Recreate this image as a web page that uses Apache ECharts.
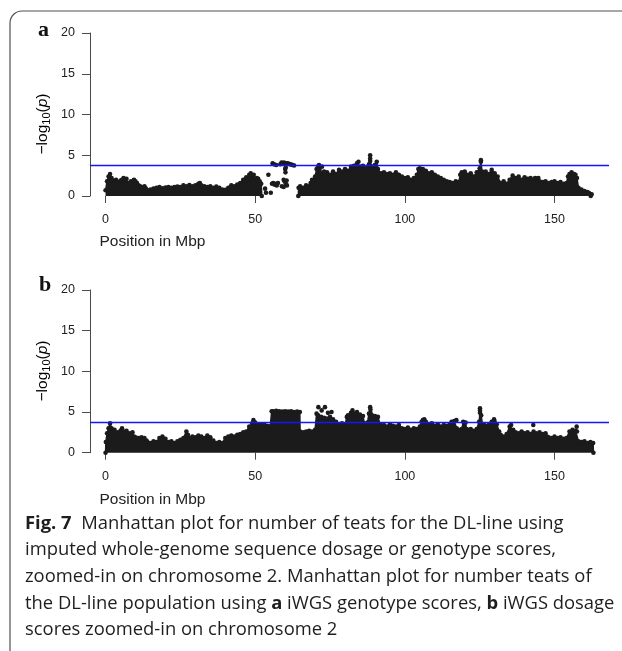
<!DOCTYPE html>
<html><head><meta charset="utf-8">
<script src="https://cdn.jsdelivr.net/npm/echarts@6/dist/echarts.min.js"></script>
<style>html,body{margin:0;padding:0;background:#fff}#c{width:622px;height:651px}</style>
</head><body><div id="c"></div>
<script>
// ---- data ----
const xTicks = [0, 50, 100, 150];
const yTicks = [0, 5, 10, 15, 20];
const threshold = 3.73;
// panel a: upper envelope of the dense point cloud, segment 1 (0-52 Mbp)
const envA1 = [[0,0.7],[0.5,1.8],[1,2.4],[1.5,2.7],[2,2.2],[2.5,1.9],[3,1.6],[3.5,2.0],[4,1.7],[4.5,1.5],[5,1.9],[5.5,2.0],[6,2.2],[6.5,1.9],[7,2.1],[7.5,1.6],[8,1.5],[8.5,1.8],[9,1.7],[9.5,2.0],[10,1.8],[10.5,1.6],[11,1.3],[11.5,1.2],[12,1.1],[13,1.2],[13.5,0.9],[14,0.7],[14.5,0.6],[15,0.8],[16,0.9],[17,1.0],[18,1.1],[19,0.95],[20,1.05],[21,1.1],[22,1.0],[23,1.1],[24,1.15],[25,1.1],[26,1.3],[27,1.2],[28,1.35],[29,1.2],[30,1.3],[31,1.5],[31.5,1.6],[32,1.3],[33,1.2],[34,1.1],[35,1.2],[36,1.0],[37,1.15],[38,1.0],[39,0.8],[40,0.75],[41,1.0],[42,1.3],[43,1.2],[44,1.4],[45,1.6],[46,2.0],[46.5,1.7],[47,2.3],[47.5,2.0],[48,2.6],[48.5,2.8],[49,2.3],[49.5,2.6],[50,2.0],[50.5,2.2],[51,2.1],[51.5,1.8],[52,1.5],[52.2,0]];
// panel a: envelope segment 2 (64-162 Mbp)
const envA2 = [[64.4,0],[64.5,1.0],[65,1.2],[66,1.0],[67,1.3],[68,1.2],[68.5,1.6],[69,2.0],[69.5,1.8],[70,2.4],[70.5,3.3],[71,3.6],[71.5,3.2],[72,2.8],[73,3.0],[74,2.9],[75,2.6],[76,3.0],[77,2.7],[78,3.2],[79,3.0],[80,3.3],[81,3.1],[82,3.6],[83,3.7],[84,4.0],[84.5,4.2],[85,3.6],[86,3.7],[87,3.4],[88,3.9],[88.4,4.3],[89,3.6],[90,3.8],[90.6,4.2],[91,3.3],[92,2.8],[93,2.9],[94,2.7],[95,2.8],[96,2.6],[97,2.9],[98,2.6],[99,2.4],[100,2.2],[101,2.3],[102,2.0],[103,2.2],[104,2.6],[104.5,3.3],[105,3.4],[106,3.3],[107,3.1],[108,2.8],[109,2.9],[110,2.6],[111,2.4],[112,2.2],[113,2.0],[114,1.8],[115,1.7],[116,1.6],[117,1.8],[118,1.7],[118.5,2.6],[119,2.9],[120,3.0],[121,2.6],[122,2.8],[123,2.4],[124,2.9],[125,3.4],[125.4,4.2],[125.8,3.0],[126.5,2.8],[127,3.0],[128,2.7],[129,3.2],[130,2.8],[131,2.4],[132,1.6],[133,1.8],[134,1.5],[135,2.0],[136,2.5],[137,2.2],[138,2.4],[139,2.0],[140,2.3],[141,2.1],[142,2.2],[143,2.0],[144,2.1],[145,1.8],[146,1.7],[147,1.8],[148,1.6],[149,1.7],[150,1.8],[151,1.6],[152,1.7],[153,1.5],[154,1.6],[154.5,2.4],[155,2.7],[155.7,2.9],[156.5,2.7],[157,2.6],[157.5,2.2],[158,1.0],[159,0.8],[160,0.6],[161,0.5],[161.5,0.3],[162,0.2],[162.1,0]];
// panel a: isolated points
const outA = [[53.3,0.9],[53.6,0.4],[54.4,2.6],[55.2,0.4],[55.6,1.5],[56,1.6],[56.4,1.4],[56.8,1.5],[57.2,1.3],[57.6,1.6],[55.8,4.0],[56.3,3.9],[57,3.8],[58.4,3.9],[58.8,4.1],[59.2,4.0],[59.6,4.1],[60,3.9],[60.4,4.0],[60.8,4.0],[61.2,3.95],[61.6,3.9],[62,3.85],[62.5,3.8],[63,3.75],[60,3.3],[60.1,2.9],[60.2,3.5],[59.5,2.0],[59.8,1.8],[60.2,1.5],[58.9,1.2],[59.5,1.1],[60.5,1.9],[60.6,1.3],[88.4,5.0],[88.4,4.6],[125.4,4.4],[143.5,2.2],[144.6,2.2],[161.5,0.35],[162.4,0.2],[71.3,3.8],[72.3,3.6]];
// panel b: upper envelope
const envB = [[0,0],[0.1,1.3],[0.5,2.4],[1,3.0],[1.5,3.6],[2,3.0],[2.5,2.6],[3,2.8],[4,2.5],[5,2.7],[5.5,3.0],[6,2.6],[7,2.7],[8,2.4],[9,2.5],[9.5,2.0],[10,1.9],[11,1.8],[12,1.9],[13,1.8],[13.7,1.5],[14,1.3],[15,1.2],[16,1.4],[17,1.3],[18,1.8],[19,2.0],[20,1.7],[21,1.3],[22,1.4],[23,1.2],[24,1.4],[25,1.6],[26,1.8],[27,2.6],[27.5,2.2],[28,1.8],[29,2.0],[30,1.9],[31,2.1],[32,2.0],[33,1.8],[34,2.1],[35,1.9],[36,1.5],[37,1.2],[38,1.3],[39,1.2],[40,1.8],[41,2.0],[42,2.1],[43,2.0],[44,2.2],[45,2.3],[46,2.5],[47,2.6],[48,3.2],[49,3.6],[49.4,4.0],[50,3.7],[51,3.5],[52,3.4],[53,3.5],[54,3.3],[55,3.2],[55.4,3.3],[55.5,5.1],[56,5.1],[57,5.15],[58,5.1],[59,5.05],[60,5.1],[61,5.05],[62,5.1],[63,5.0],[64,5.05],[64.9,5.0],[65,2.6],[66,2.5],[67,2.6],[68,2.7],[69,2.6],[70,2.8],[70.5,4.8],[71,4.6],[72,4.4],[73,4.3],[74,4.2],[75,4.4],[76,4.1],[77,3.8],[78,3.5],[79,3.6],[80,3.4],[80.6,4.4],[81,4.6],[82,4.9],[83,4.8],[84,4.6],[85,4.7],[86,4.5],[86.5,3.6],[87.5,3.7],[88,4.8],[88.5,4.9],[89,4.6],[90,4.5],[91,4.4],[91.7,3.5],[92,3.3],[93,3.4],[94,3.2],[95,3.5],[96,3.3],[97,3.2],[98,3.4],[99,3.0],[100,2.9],[101,3.1],[102,2.8],[103,3.0],[104,2.9],[105,3.2],[105.6,3.8],[106,4.0],[107,3.8],[107.5,3.5],[108,3.4],[109,3.6],[110,3.3],[111,3.5],[112,3.2],[113,3.4],[114,3.3],[115,3.5],[115.6,3.8],[116.5,3.9],[117.3,3.0],[118,2.8],[119,2.9],[119.5,3.8],[120.3,3.7],[120.6,2.9],[121,2.8],[122,2.9],[123,2.7],[124,2.9],[124.8,3.8],[125.1,4.9],[125.5,4.6],[126,3.2],[126.5,3.4],[127,3.3],[128,3.4],[129,3.8],[130,3.8],[130.7,3.5],[131.5,2.6],[132,2.2],[133,2.0],[134,2.3],[135,3.2],[135.5,3.4],[136.2,2.8],[137,2.5],[138,2.4],[139,2.6],[140,2.4],[141,2.5],[142,2.3],[143,2.6],[144,2.4],[145,2.5],[146,2.3],[147,2.4],[147.5,2.0],[148,1.9],[149,1.8],[150,2.0],[151,1.8],[152,1.9],[153,1.7],[154,1.8],[155,2.6],[156,2.8],[157,2.7],[157.5,2.6],[158,1.4],[159,1.3],[160,1.4],[161,1.2],[162,1.3],[162.9,1.2],[163,0]];
// panel b: isolated points
const outB = [[71.1,5.6],[73.3,5.6],[72.2,5.2],[74.3,4.9],[75.5,5.0],[82.5,5.2],[84,5.0],[88.4,5.6],[88.5,5.3],[125.1,5.45],[125.1,5.2],[128.3,3.4],[142.9,3.4],[157.4,3.2],[106.5,4.1],[117.2,4.0],[129.8,4.1]];

const captionLines = [
  '{b|Fig. 7}  Manhattan plot for number of teats for the DL-line using',
  'imputed whole-genome sequence dosage or genotype scores,',
  'zoomed-in on chromosome 2. Manhattan plot for number teats of',
  'the DL-line population using {b|a} iWGS genotype scores, {b|b} iWGS dosage',
  'scores zoomed-in on chromosome 2'
];

// ---- chart ----
const INK = '#1b1b1b';
const AX = '#4a4a4a';
const TXT = '#222';
const chart = echarts.init(document.getElementById('c'), null, {renderer: 'canvas'});

function xAxisCfg(gi) {
  return {
    type: 'value', gridIndex: gi, min: -5.2, max: 168.2,
    axisLine: {show: false, onZero: false},
    splitLine: {show: false},
    axisTick: {show: true, length: 7, customValues: xTicks, lineStyle: {color: AX, width: 1}},
    axisLabel: {customValues: xTicks, margin: 17, fontSize: 12.5, fontFamily: 'Liberation Sans', color: TXT}
  };
}
function yAxisCfg(gi) {
  return {
    type: 'value', gridIndex: gi, min: 0, max: 20, interval: 5,
    axisLine: {show: true, onZero: false, lineStyle: {color: AX, width: 1}},
    splitLine: {show: false},
    axisTick: {show: true, length: 8, lineStyle: {color: AX, width: 1}},
    axisLabel: {margin: 15, fontSize: 12.5, fontFamily: 'Liberation Sans', color: TXT}
  };
}
function areaSeries(data, gi, withMark) {
  const s = {
    type: 'line', xAxisIndex: gi, yAxisIndex: gi, data: data,
    showSymbol: false, smooth: false, silent: true,
    lineStyle: {color: INK, width: 1.5},
    areaStyle: {color: INK, opacity: 1},
    z: 2
  };
  if (withMark) {
    s.markLine = {
      silent: true, symbol: 'none', label: {show: false},
      lineStyle: {color: '#1414ff', width: 1.3, type: 'solid'},
      data: [{yAxis: threshold}]
    };
  }
  return s;
}
function dotSeries(data, gi) {
  return {
    type: 'scatter', xAxisIndex: gi, yAxisIndex: gi, data: data,
    symbol: 'circle', symbolSize: 4.6, silent: true,
    itemStyle: {color: INK, opacity: 1}, z: 3
  };
}

const ylabRich = {
  n: {fontSize: 15.5, fontFamily: 'Liberation Sans', color: TXT, lineHeight: 18, verticalAlign: 'middle'},
  s: {fontSize: 11, fontFamily: 'Liberation Sans', color: TXT, lineHeight: 11, verticalAlign: 'bottom'},
  i: {fontSize: 15.5, fontFamily: 'Liberation Sans', fontStyle: 'italic', color: TXT, lineHeight: 18, verticalAlign: 'middle'}
};
const ylabText = '{n|\u2212log}{s|10}{n|(}{i|p}{n|)}';
const FRAME = '#505050';

const graphics = [
  {type: 'line', shape: {x1: 10, y1: 23, x2: 10, y2: 651}, style: {stroke: FRAME, lineWidth: 1.2}, silent: true},
  {type: 'line', shape: {x1: 22, y1: 11, x2: 622, y2: 11}, style: {stroke: FRAME, lineWidth: 1.2}, silent: true},
  {type: 'arc', shape: {cx: 22, cy: 23, r: 12, startAngle: Math.PI, endAngle: Math.PI * 1.5}, style: {stroke: FRAME, lineWidth: 1.2, fill: null}, silent: true},
  {type: 'text', x: 43.5, y: 30, style: {text: 'a', font: 'bold 22px "Liberation Serif"', fill: '#111', align: 'center', verticalAlign: 'middle'}},
  {type: 'text', x: 45, y: 285, style: {text: 'b', font: 'bold 22px "Liberation Serif"', fill: '#111', align: 'center', verticalAlign: 'middle'}},
  {type: 'text', x: 43, y: 124, rotation: Math.PI / 2, style: {text: ylabText, rich: ylabRich, align: 'center', verticalAlign: 'middle'}},
  {type: 'text', x: 43, y: 371, rotation: Math.PI / 2, style: {text: ylabText, rich: ylabRich, align: 'center', verticalAlign: 'middle'}},
  {type: 'text', x: 99.5, y: 241.3, style: {text: 'Position in Mbp', font: '15.5px "Liberation Sans"', fill: TXT, align: 'left', verticalAlign: 'middle'}},
  {type: 'text', x: 99.5, y: 499.6, style: {text: 'Position in Mbp', font: '15.5px "Liberation Sans"', fill: TXT, align: 'left', verticalAlign: 'middle'}}
];
const capY = [523.7, 550.2, 577, 603.7, 630];
captionLines.forEach((t, k) => {
  graphics.push({type: 'text', x: 25, y: capY[k], style: {
    text: t, align: 'left', verticalAlign: 'middle',
    fontSize: 18.4, fontFamily: '"Open Sans"', fill: '#1e1e1e',
    rich: {b: {fontSize: 18.4, fontFamily: '"Open Sans"', fontWeight: 'bold', fill: '#1e1e1e'}}
  }});
});

chart.setOption({
  animation: false,
  backgroundColor: '#fff',
  grid: [
    {left: 90, right: 13, top: 33, height: 163},
    {left: 90, right: 13, top: 290, height: 162.7}
  ],
  xAxis: [xAxisCfg(0), xAxisCfg(1)],
  yAxis: [yAxisCfg(0), yAxisCfg(1)],
  series: [
    areaSeries(envA1, 0, true),
    areaSeries(envA2, 0, false),
    dotSeries(envA1, 0), dotSeries(envA2, 0), dotSeries(outA, 0),
    areaSeries(envB, 1, true),
    dotSeries(envB, 1), dotSeries(outB, 1)
  ],
  graphic: graphics
});
</script></body></html>
